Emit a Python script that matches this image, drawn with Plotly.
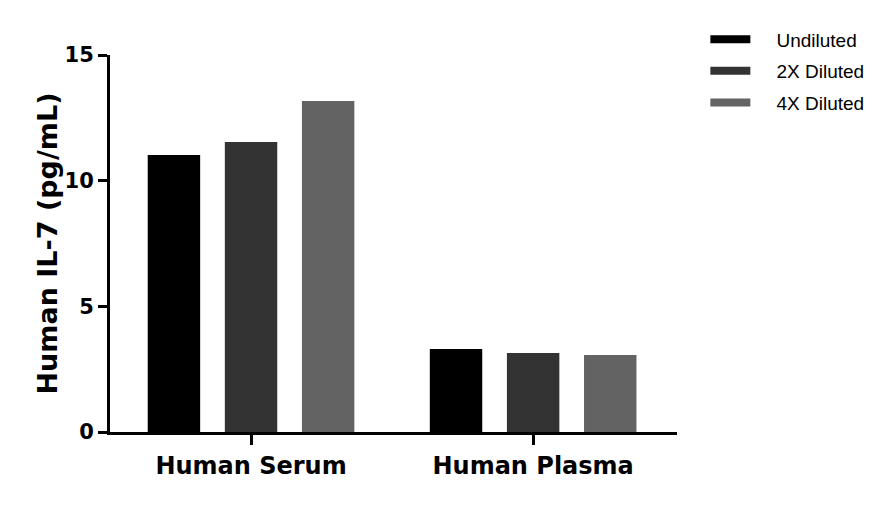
import plotly.graph_objects as go

# sample types on the x axis
samples = ["Human Serum", "Human Plasma"]

# measured IL-7 per dilution (pg/mL)
undiluted = [11.02, 3.30]
diluted_2x = [11.54, 3.14]
diluted_4x = [13.17, 3.06]

series = [
    ("Undiluted", undiluted, "#000000"),
    ("2X Diluted", diluted_2x, "#333333"),
    ("4X Diluted", diluted_4x, "#636363"),
]

bold_font = "DejaVu Sans"
pad = "\u00a0" * 4  # push legend text away from the key a bit

fig = go.Figure()
for name, vals, col in series:
    fig.add_trace(go.Bar(x=samples, y=vals, name=name, marker_color=col,
                         marker_line_width=0, showlegend=False))
    # dummy line trace so the legend key is a wide bar like the original
    fig.add_trace(go.Scatter(x=[None], y=[None], mode="lines", name=pad + name,
                             legendgroup=name, line=dict(color=col, width=8)))

fig.update_layout(
    width=892, height=507,
    margin=dict(l=102, r=223, t=47, b=83, autoexpand=False),
    plot_bgcolor="white", paper_bgcolor="white",
    barmode="group", bargap=0.18, bargroupgap=0.32,
    legend=dict(x=1.05, y=1.092, xanchor="left", yanchor="top",
                font=dict(family="Liberation Sans, Arial", size=19, color="black"),
                tracegroupgap=4, itemwidth=40),
)
fig.update_xaxes(
    range=[-0.5, 1.51], showline=True, linecolor="black", linewidth=3,
    ticks="outside", ticklen=10, tickwidth=3, tickcolor="black",
    tickfont=dict(family=bold_font, size=24, color="black", weight="bold"),
    showgrid=False,
)
fig.update_yaxes(
    range=[0, 15], tickvals=[0, 5, 10, 15], showline=True, linecolor="black",
    linewidth=3, ticks="outside", ticklen=9, tickwidth=3, tickcolor="black",
    tickfont=dict(family=bold_font, size=21, color="black", weight="bold"),
    title=dict(text="Human IL-7 (pg/mL)", standoff=0,
               font=dict(family=bold_font, size=27, color="black", weight="bold")),
    showgrid=False, zeroline=False,
)

fig.write_html("out.html")
